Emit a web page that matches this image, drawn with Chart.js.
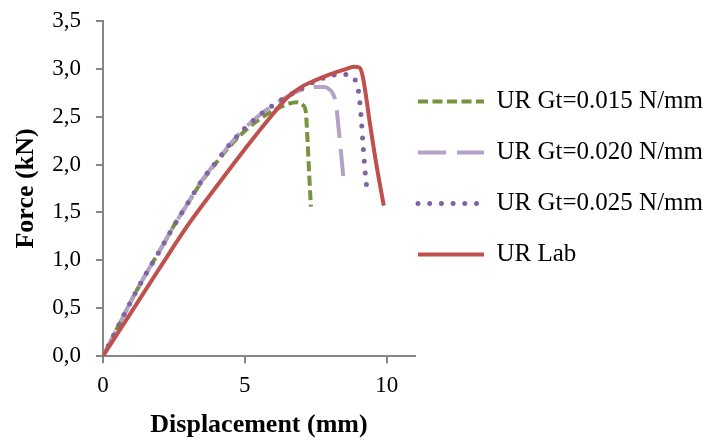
<!DOCTYPE html>
<html>
<head>
<meta charset="utf-8">
<script src="https://cdn.jsdelivr.net/npm/chart.js@4"></script>
<style>
  body { margin: 0; background: #fff; }
</style>
</head>
<body>
<canvas id="forceChart" width="710" height="439"></canvas>
<script>
// (displacement mm / force kN)
const gt015X = [0, 0.5, 1, 1.5, 2, 2.5, 3, 3.5, 4, 4.5, 5, 5.5, 6, 6.5, 6.85, 7.05, 7.15, 7.21, 7.27, 7.33];
const gt015Y = [0, 0.29, 0.58, 0.85, 1.1, 1.36, 1.6, 1.83, 2.02, 2.2, 2.35, 2.47, 2.56, 2.63, 2.65, 2.62, 2.55, 2.26, 1.9, 1.56];

const gt020X = [0, 0.5, 1, 1.5, 2, 2.5, 3, 3.5, 4, 4.5, 5, 5.5, 6, 6.5, 7, 7.5, 7.8, 8.0, 8.12, 8.22, 8.3, 8.4, 8.47];
const gt020Y = [0, 0.29, 0.58, 0.85, 1.1, 1.36, 1.6, 1.84, 2.03, 2.22, 2.38, 2.51, 2.62, 2.71, 2.78, 2.81, 2.81, 2.78, 2.73, 2.62, 2.4, 2.1, 1.88];

const gt025X = [0, 0.5, 1, 1.5, 2, 2.5, 3, 3.5, 4, 4.5, 5, 5.5, 6, 6.5, 7, 7.5, 8, 8.3, 8.65, 8.85, 8.95, 9.03, 9.1, 9.16, 9.22, 9.3];
const gt025Y = [0, 0.29, 0.58, 0.85, 1.1, 1.36, 1.6, 1.84, 2.03, 2.22, 2.38, 2.51, 2.62, 2.71, 2.79, 2.87, 2.92, 2.94, 2.94, 2.9, 2.84, 2.72, 2.5, 2.24, 2.0, 1.75];

const labX = [0, 1, 2, 3, 4, 5, 6, 6.5, 7, 7.5, 8, 8.5, 8.85, 9.05, 9.15, 9.25, 9.4, 9.65, 9.9];
const labY = [0, 0.46, 0.92, 1.37, 1.77, 2.16, 2.53, 2.7, 2.81, 2.88, 2.94, 2.99, 3.02, 3.01, 2.93, 2.76, 2.45, 1.98, 1.57];

const seriesNames = ["UR Gt=0.015 N/mm", "UR Gt=0.020 N/mm", "UR Gt=0.025 N/mm", "UR Lab"];

const SERIF = "'Liberation Serif', 'Times New Roman', serif";
const axisGrey = "#868686";

function toPoints(xs, ys) {
  return xs.map((x, i) => ({ x: x, y: ys[i] }));
}

// move the legend next to the plot like the excel one
const legendPlace = {
  id: "legendPlace",
  afterLayout(chart) {
    chart.legend.left = chart.chartArea.right - 23;
    chart.legend.top = 63;
  },
};

const ctx = document.getElementById("forceChart");
new Chart(ctx, {
  type: "line",
  data: {
    datasets: [
      {
        label: seriesNames[0],
        data: toPoints(gt015X, gt015Y),
        borderColor: "#77933C",
        backgroundColor: "#77933C",
        borderWidth: 4,
        borderDash: [10, 4.5],
        order: 3,
      },
      {
        label: seriesNames[1],
        data: toPoints(gt020X, gt020Y),
        borderColor: "#B3A2C7",
        backgroundColor: "#B3A2C7",
        borderWidth: 4,
        borderDash: [28, 11],
        order: 2,
      },
      {
        label: seriesNames[2],
        data: toPoints(gt025X, gt025Y),
        borderColor: "#8064A2",
        backgroundColor: "#8064A2",
        borderWidth: 5,
        borderDash: [0, 11.7],
        borderCapStyle: "round",
        order: 1,
      },
      {
        label: seriesNames[3],
        data: toPoints(labX, labY),
        borderColor: "#C0504D",
        backgroundColor: "#C0504D",
        borderWidth: 4,
        order: 0,
      },
    ],
  },
  options: {
    responsive: false,
    animation: false,
    layout: { padding: { top: 0, left: 0, right: 0, bottom: 0 } },
    elements: {
      point: { radius: 0, hoverRadius: 0 },
      line: { cubicInterpolationMode: "monotone", fill: false },
    },
    scales: {
      x: {
        type: "linear",
        min: 0,
        max: 11,
        ticks: {
          stepSize: 5,
          includeBounds: false,
          color: "#000",
          font: { family: SERIF, size: 23 },
          padding: 9,
          maxRotation: 0,
        },
        grid: { drawOnChartArea: false, color: axisGrey, lineWidth: 2, tickLength: 7 },
        border: { color: axisGrey, width: 2 },
        title: {
          display: true,
          text: "Displacement (mm)",
          color: "#000",
          font: { family: SERIF, size: 26, weight: "bold" },
          padding: { top: 1, bottom: -2 },
        },
      },
      y: {
        min: 0,
        max: 3.5,
        ticks: {
          stepSize: 0.5,
          color: "#000",
          font: { family: SERIF, size: 23, lineHeight: 0.5 }, // small line height keeps the top tight
          padding: 15,
          callback: (v) => v.toFixed(1).replace(".", ","), // comma decimals
        },
        grid: { drawOnChartArea: false, color: axisGrey, lineWidth: 2, tickLength: 7 },
        border: { color: axisGrey, width: 2 },
        title: {
          display: true,
          text: "Force (kN)",
          color: "#000",
          font: { family: SERIF, size: 26, weight: "bold" },
          padding: { top: 11, bottom: -5 },
        },
      },
    },
    plugins: {
      legend: {
        position: "right",
        align: "start",
        maxWidth: 295,
        labels: {
          usePointStyle: true,
          pointStyle: "line",
          pointStyleWidth: 66,
          padding: 26,
          color: "#000",
          font: { family: SERIF, size: 25 },
          sort: (a, b) => a.datasetIndex - b.datasetIndex,
          // point style drops the dash, put the line style back
          generateLabels: (chart) => {
            const items = Chart.defaults.plugins.legend.labels.generateLabels(chart);
            items.forEach((item) => {
              const ds = chart.data.datasets[item.datasetIndex];
              item.lineDash = ds.borderDash || [];
              item.lineCap = ds.borderCapStyle || "butt";
              item.lineWidth = ds.borderWidth;
              item.pointStyle = "line";
            });
            return items;
          },
        },
      },
      tooltip: { enabled: false },
    },
  },
  plugins: [legendPlace],
});
</script>
</body>
</html>
